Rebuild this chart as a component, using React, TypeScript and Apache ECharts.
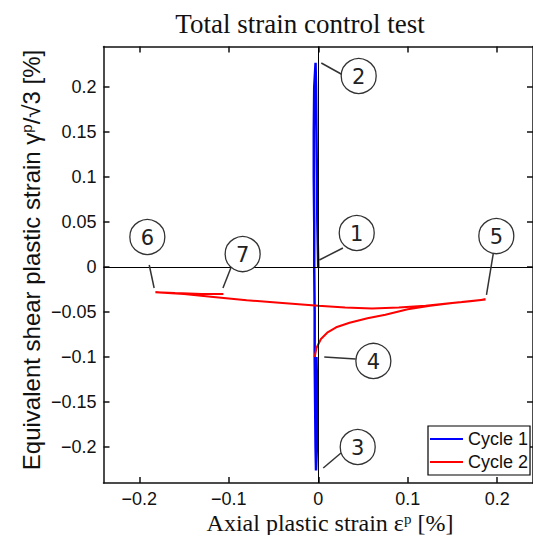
import React, { useEffect, useRef } from "react";
import * as echarts from "echarts";

// Axis ticks
const xTicks = [-0.2, -0.1, 0, 0.1, 0.2];
const yTicks = [-0.2, -0.15, -0.1, -0.05, 0, 0.05, 0.1, 0.15, 0.2];

// Cycle 1: [axial plastic strain, equivalent shear plastic strain] (%)
const cycle1: number[][] = [
  [0, 0], [-0.001, 0.05], [-0.0015, 0.1], [-0.002, 0.15], [-0.0025, 0.2], [-0.003, 0.227],
  [-0.0045, 0.2], [-0.005, 0.15], [-0.005, 0.1], [-0.0045, 0.05], [-0.0045, 0],
  [-0.004, -0.05], [-0.004, -0.1], [-0.0035, -0.15], [-0.003, -0.2], [-0.0025, -0.226],
  [-0.0015, -0.2], [-0.001, -0.15], [-0.002, -0.1],
];

// Cycle 2
const cycle2: number[][] = [
  [-0.004, -0.1], [-0.002, -0.09], [0.003, -0.08], [0.01, -0.073], [0.02, -0.067],
  [0.035, -0.062], [0.055, -0.057], [0.075, -0.053], [0.1, -0.047], [0.125, -0.043],
  [0.15, -0.04], [0.17, -0.038], [0.187, -0.036],
  [0.16, -0.039], [0.12, -0.043], [0.09, -0.045], [0.06, -0.046], [0.03, -0.045],
  [0, -0.043], [-0.04, -0.04], [-0.08, -0.037], [-0.12, -0.033], [-0.15, -0.03],
  [-0.182, -0.028],
  [-0.16, -0.029], [-0.13, -0.03], [-0.106, -0.03],
];

// Numbered callouts (data coordinates)
const annoLabels = ["1", "2", "3", "4", "5", "6", "7"];
const annoCenters: number[][] = [
  [0.043, 0.0378], [0.0452, 0.2122], [0.0441, -0.2], [0.0616, -0.1044],
  [0.199, 0.0344], [-0.191, 0.0333], [-0.0845, 0.0144],
];
const annoFrom: number[][] = [
  [0.0012, 0.0078], [0.0034, 0.2267], [0.0056, -0.2233], [0.0067, -0.1],
  [0.188, -0.0311], [-0.1834, -0.0233], [-0.1065, -0.0233],
];
const annoTo: number[][] = [
  [0.0276, 0.0211], [0.0276, 0.2133], [0.0254, -0.2067], [0.0419, -0.1022],
  [0.1957, 0.0156], [-0.1889, 0.0022], [-0.0977, -0.0011],
];

const fmt = (v: number) => {
  const s = String(Math.round(v * 1000) / 1000);
  return s.replace("-", "\u2212");
};

const axisColor = "#111";
const tickFont = { fontFamily: "Liberation Sans", fontSize: 18, lineHeight: 18, color: "#111" };

export default function App() {
  const ref = useRef<HTMLDivElement>(null);
  useEffect(() => {
    const chart = echarts.init(ref.current!, null, { renderer: "svg" });
    const annoData = annoCenters.map((c, i) => [c[0], c[1], annoFrom[i][0], annoFrom[i][1], annoTo[i][0], annoTo[i][1]]);
    chart.setOption({
      animation: false,
      backgroundColor: "#fff",
      grid: { left: 103.5, top: 46.5, width: 436.8, height: 436.5, containLabel: false },
      xAxis: [
        {
          type: "value", min: -0.24, max: 0.24, position: "bottom",
          axisLine: { show: true, onZero: false, lineStyle: { color: axisColor, width: 1.5 } },
          axisTick: { show: true, inside: true, length: 6, customValues: xTicks, lineStyle: { color: axisColor, width: 1.5 } },
          axisLabel: { customValues: xTicks, formatter: fmt, margin: 7, ...tickFont },
          splitLine: { show: false },
        },
        {
          type: "value", min: -0.24, max: 0.24, position: "top",
          axisLine: { show: true, onZero: false, lineStyle: { color: axisColor, width: 1.5 } },
          axisTick: { show: true, inside: true, length: 6, customValues: xTicks, lineStyle: { color: axisColor, width: 1.5 } },
          axisLabel: { show: false },
          splitLine: { show: false },
        },
      ],
      yAxis: [
        {
          type: "value", min: -0.24, max: 0.245, position: "left",
          axisLine: { show: true, onZero: false, lineStyle: { color: axisColor, width: 1.5 } },
          axisTick: { show: true, inside: true, length: 6, customValues: yTicks, lineStyle: { color: axisColor, width: 1.5 } },
          axisLabel: { customValues: yTicks, formatter: fmt, margin: 7, ...tickFont },
          splitLine: { show: false },
        },
        {
          type: "value", min: -0.24, max: 0.245, position: "right",
          axisLine: { show: true, onZero: false, lineStyle: { color: axisColor, width: 1.5 } },
          axisTick: { show: true, inside: true, length: 6, customValues: yTicks, lineStyle: { color: axisColor, width: 1.5 } },
          axisLabel: { show: false },
          splitLine: { show: false },
        },
      ],
      legend: {
        data: ["Cycle 1", "Cycle 2"],
        orient: "vertical",
        left: 428, top: 426,
        icon: "rect", itemWidth: 33, itemHeight: 2, itemGap: 5,
        padding: [4, 2, 4, 2],
        borderColor: "#000", borderWidth: 1.2, backgroundColor: "#fff",
        textStyle: { fontFamily: "Liberation Sans", fontSize: 18, color: "#111" },
        selectedMode: false,
      },
      graphic: [
        {
          type: "text", x: 300, y: 24, z: 10,
          style: { text: "Total strain control test", fontFamily: "Liberation Serif", fontSize: 27, fill: "#111",
            textAlign: "center", textVerticalAlign: "middle", align: "center", verticalAlign: "middle" },
        },
        {
          type: "text", x: 330, y: 523, z: 10,
          style: {
            text: "Axial plastic strain \u03b5{sup|p} [%]", fontFamily: "Liberation Serif", fontSize: 24, lineHeight: 24, fill: "#111",
            textAlign: "center", textVerticalAlign: "middle", align: "center", verticalAlign: "middle",
            rich: { sup: { fontFamily: "Liberation Serif", fontSize: 15, lineHeight: 16, fill: "#111", verticalAlign: "top" } },
          },
        },
        {
          type: "text", x: 31, y: 260, rotation: Math.PI / 2, z: 10,
          style: {
            text: "Equivalent shear plastic strain \u03b3{sup|p}/\u221a3 [%]", fontFamily: "Liberation Sans", fontSize: 24, fill: "#111",
            textAlign: "center", textVerticalAlign: "middle", align: "center", verticalAlign: "middle",
            rich: { sup: { fontFamily: "Liberation Sans", fontSize: 15, fill: "#111", verticalAlign: "top", padding: [0, 0, 8, 0] } },
          },
        },
      ],
      series: [
        {
          name: "Cycle 1", type: "line", data: cycle1, symbol: "none", showSymbol: false,
          color: "#0000ff", lineStyle: { color: "#0000ff", width: 2.5 }, silent: true, z: 2,
          emphasis: { disabled: true },
          markLine: {
            silent: true, symbol: ["none", "none"], label: { show: false },
            lineStyle: { color: "#000", width: 1, type: "solid" },
            emphasis: { disabled: true },
            data: [{ xAxis: 0 }, { yAxis: 0 }],
          },
        },
        {
          name: "Cycle 2", type: "line", data: cycle2, symbol: "none", showSymbol: false,
          color: "#ff0000", lineStyle: { color: "#ff0000", width: 2 }, silent: true, z: 3,
          emphasis: { disabled: true },
        },
        {
          type: "custom", silent: true, clip: false, z: 5,
          data: annoData,
          renderItem: (params: any, api: any) => {
            const c = api.coord([api.value(0), api.value(1)]);
            const a = api.coord([api.value(2), api.value(3)]);
            const b = api.coord([api.value(4), api.value(5)]);
            const label = annoLabels[params.dataIndex];
            return {
              type: "group",
              children: [
                { type: "line", shape: { x1: a[0], y1: a[1], x2: b[0], y2: b[1] }, style: { stroke: "#333", lineWidth: 1.5 } },
                { type: "circle", shape: { cx: c[0], cy: c[1], r: 17.5 }, style: { fill: "#fff", stroke: "#333", lineWidth: 1.3 } },
                {
                  type: "text", x: c[0], y: c[1] + 1,
                  style: { text: label, fontFamily: "DejaVu Sans", fontSize: 21, fill: "#222",
                    textAlign: "center", textVerticalAlign: "middle", align: "center", verticalAlign: "middle" },
                },
              ],
            };
          },
        },
      ],
    });
    return () => chart.dispose();
  }, []);
  return <div ref={ref} style={{ position: "absolute", left: 0, top: 0, width: 533, height: 535, background: "#fff" }} />;
}
